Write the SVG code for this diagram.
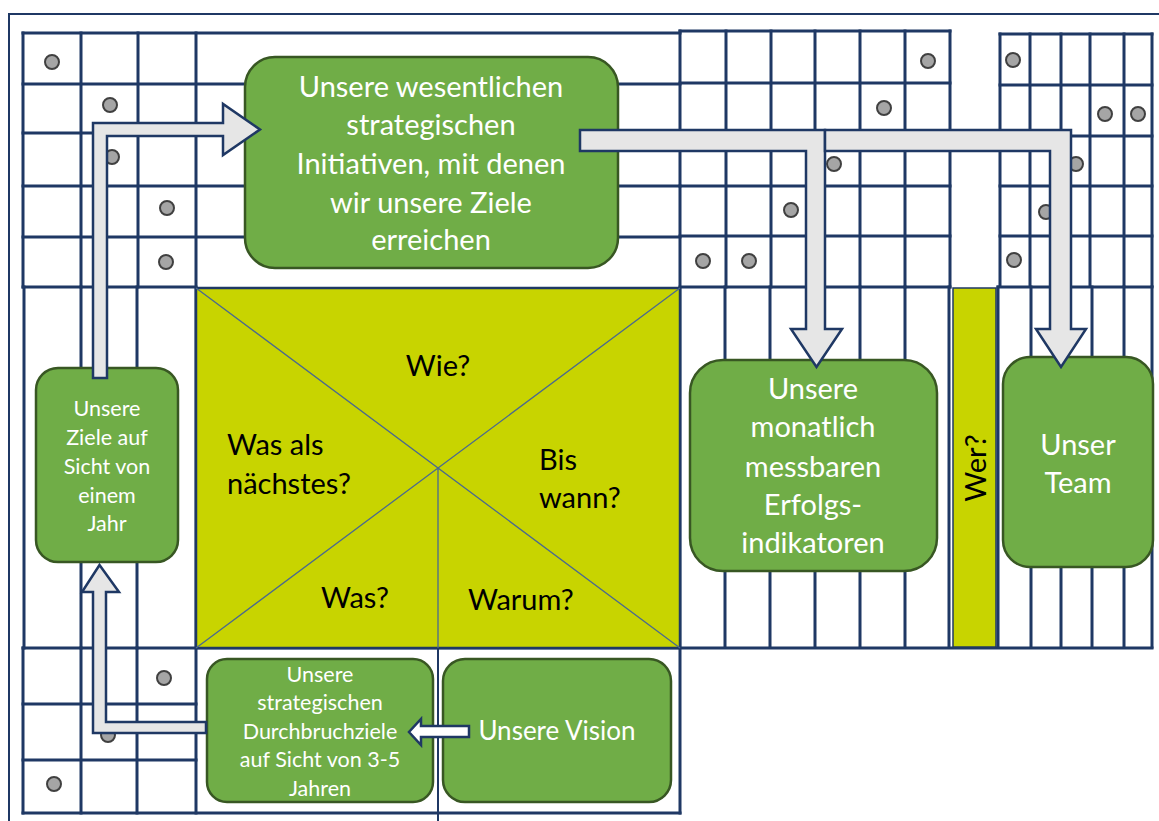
<svg xmlns="http://www.w3.org/2000/svg" width="1159" height="821" viewBox="0 0 1159 821">
<style>
.g{stroke:#1F3864;stroke-width:3;fill:none;stroke-linecap:square}
.thin{stroke:#1F3864;stroke-width:2;fill:none}
.diag{stroke:#4B6A8E;stroke-width:1.3;fill:none}
.dot{fill:#A5A5A5;stroke:#404040;stroke-width:2}
.box{fill:#70AD47;stroke:#385723;stroke-width:2.5}
.wt{fill:#FFFFFF;font-family:Lato,"Open Sans",sans-serif;text-anchor:middle}
.bt{fill:#000000;font-family:Lato,"Open Sans",sans-serif;font-size:29px}
.arr{fill:#E6E6E6;stroke:#1F3864;stroke-width:2.5;stroke-linejoin:miter}
.arrw{fill:#FFFFFF;stroke:#1F3864;stroke-width:2.5}
</style>
<rect width="1159" height="821" fill="#FFFFFF"/>
<!-- outer frame -->
<path class="thin" d="M9,821 V14 H1159"/>
<g id="grid">
  <!-- left top grid -->
  <path class="g" d="M23,33 V287 M81,33 V287 M138,33 V287 M196,33 V813"/>
  <path class="g" d="M23,33 H680 M23,84 H680 M23,133 H680 M23,186 H680 M23,237 H680 M23,287 H196"/>
  <!-- left middle verticals -->
  <path class="g" d="M24,287 V648 M81,287 V648 M137,287 V648"/>
  <!-- bottom-left grid -->
  <path class="g" d="M23,648 V813 M81,648 V813 M137,648 V813"/>
  <path class="g" d="M23,648 H1152 M23,704 H196 M23,760 H196 M23,813 H680"/>
  <path class="g" d="M680,31 V813"/>
  <path class="thin" d="M438,648 V821"/>
  <!-- right grid 1 -->
  <path class="g" d="M726,31 V287 M771,31 V287 M815,31 V287 M860,31 V287 M905,31 V287 M950,31 V287"/>
  <path class="g" d="M680,31 H950 M680,83 H950 M680,131 H950 M680,186 H950 M680,236 H950 M680,287 H950"/>
  <path class="g" d="M725,287 V647 M770,287 V647 M815,287 V647 M860,287 V647 M905,287 V647 M949,287 V647"/>
  <!-- right grid 2 -->
  <path class="g" d="M1000,34 V286 M1030,34 V286 M1061,34 V286 M1090,34 V286 M1124,34 V286 M1152,34 V286"/>
  <path class="g" d="M1000,34 H1152 M1000,85 H1152 M1000,136 H1152 M1000,186 H1152 M1000,236 H1152 M998,287 H1152"/>
  <path class="g" d="M998,287 V647 M1031,287 V647 M1061,287 V647 M1092,287 V647 M1124,287 V647 M1152,287 V647"/>
</g>
<g id="quadrant">
  <rect x="196" y="288" width="484" height="360" fill="#C8D400" stroke="#1F3864" stroke-width="2.5"/>
  <path class="diag" d="M196,288 L680,648 M680,288 L196,648 M438,468 V648"/>
  <text class="bt" x="438" y="376" text-anchor="middle">Wie?</text>
  <text class="bt" x="227" y="455">Was als</text>
  <text class="bt" x="227" y="494">nächstes?</text>
  <text class="bt" x="539" y="470">Bis</text>
  <text class="bt" x="539" y="508">wann?</text>
  <text class="bt" x="321" y="608">Was?</text>
  <text class="bt" x="468" y="610">Warum?</text>
</g>
<g id="wer">
  <rect x="953" y="288" width="43" height="359" fill="#C8D400" stroke="#1F3864" stroke-width="1.5"/>
  <text class="bt" transform="translate(986,468) rotate(-90)" text-anchor="middle">Wer?</text>
</g>
<g id="dots">
  <circle class="dot" cx="52" cy="62" r="7"/>
  <circle class="dot" cx="110" cy="105" r="7"/>
  <circle class="dot" cx="112" cy="157" r="7"/>
  <circle class="dot" cx="167" cy="208" r="7"/>
  <circle class="dot" cx="166" cy="262" r="7"/>
  <circle class="dot" cx="928" cy="61" r="7"/>
  <circle class="dot" cx="884" cy="108" r="7"/>
  <circle class="dot" cx="834" cy="164" r="7"/>
  <circle class="dot" cx="791" cy="210" r="7"/>
  <circle class="dot" cx="703" cy="261" r="7"/>
  <circle class="dot" cx="749" cy="261" r="7"/>
  <circle class="dot" cx="1013" cy="60" r="7"/>
  <circle class="dot" cx="1105" cy="114" r="7"/>
  <circle class="dot" cx="1138" cy="114" r="7"/>
  <circle class="dot" cx="1076" cy="164" r="7"/>
  <circle class="dot" cx="1046" cy="212" r="7"/>
  <circle class="dot" cx="1014" cy="260" r="7"/>
  <circle class="dot" cx="164" cy="678" r="7"/>
  <circle class="dot" cx="108" cy="735" r="7"/>
  <circle class="dot" cx="54" cy="784" r="7"/>
</g>
<g id="node-initiativen">
  <rect class="box" x="245" y="57" width="373" height="211" rx="30"/>
  <text class="wt" font-size="29"><tspan x="431" y="97">Unsere wesentlichen</tspan><tspan x="431" y="135">strategischen</tspan><tspan x="431" y="174">Initiativen, mit denen</tspan><tspan x="431" y="213">wir unsere Ziele</tspan><tspan x="431" y="250">erreichen</tspan></text>
</g>
<g id="node-ziele">
  <rect class="box" x="36" y="368" width="142" height="194" rx="22"/>
  <text class="wt" font-size="21.5"><tspan x="107" y="416">Unsere</tspan><tspan x="107" y="445">Ziele auf</tspan><tspan x="107" y="474">Sicht von</tspan><tspan x="107" y="503">einem</tspan><tspan x="107" y="531">Jahr</tspan></text>
</g>
<g id="node-durchbruch">
  <rect class="box" x="207" y="659" width="226" height="143" rx="20"/>
  <text class="wt" font-size="21.5"><tspan x="320" y="682">Unsere</tspan><tspan x="320" y="710">strategischen</tspan><tspan x="320" y="739">Durchbruchziele</tspan><tspan x="320" y="767">auf Sicht von 3-5</tspan><tspan x="320" y="796">Jahren</tspan></text>
</g>
<g id="node-vision">
  <rect class="box" x="443" y="659" width="228" height="143" rx="22"/>
  <text class="wt" font-size="26" x="557" y="740">Unsere Vision</text>
</g>
<g id="node-indikatoren">
  <rect class="box" x="690" y="360" width="247" height="211" rx="33"/>
  <text class="wt" font-size="29"><tspan x="813" y="399">Unsere</tspan><tspan x="813" y="437">monatlich</tspan><tspan x="813" y="477">messbaren</tspan><tspan x="813" y="515">Erfolgs-</tspan><tspan x="813" y="553">indikatoren</tspan></text>
</g>
<g id="node-team">
  <rect class="box" x="1003" y="357" width="150" height="210" rx="27"/>
  <text class="wt" font-size="29"><tspan x="1078" y="455">Unser</tspan><tspan x="1078" y="493">Team</tspan></text>
</g>
<g id="connectors">
  <path class="arr" d="M93,378 V123 H223 V104 L260,129.5 L223,155 V136 H107 V378 Z"/>
  <path class="arr" d="M580,130 H825 V329 H842 L816.5,367 L791,329 H806 V151 H580 Z"/>
  <path class="arr" d="M825,130 H1071 V329 H1086 L1061,367 L1036,329 H1050 V151 H825 Z"/>
  <path class="arr" d="M206,722 H106 V592 H119 L99.5,565 L82,592 H93 V733 H206 Z"/>
  <path class="arrw" d="M469,726 H421 V719 L409,732 L421,745 V737 H469 Z"/>
</g>
</svg>
